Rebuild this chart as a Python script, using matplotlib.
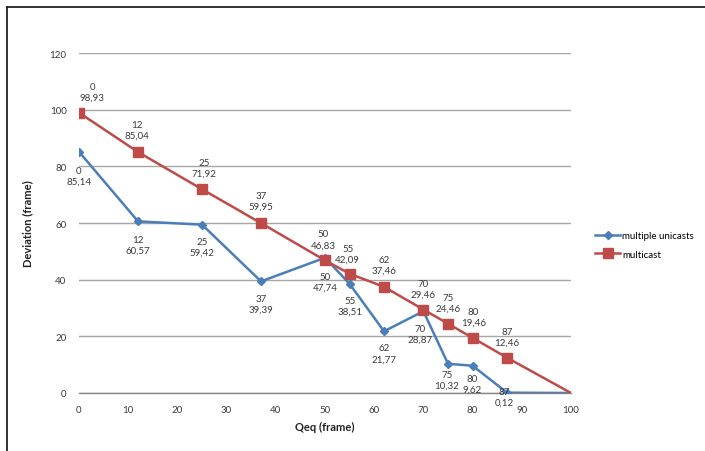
import matplotlib
matplotlib.use("Agg")
import matplotlib.pyplot as plt
from matplotlib.lines import Line2D

plt.rcParams['font.family'] = ['Lato', 'DejaVu Sans']

# data
qeq_unicast = [0, 12, 25, 37, 50, 55, 62, 70, 75, 80, 87, 100]
dev_unicast = [85.14, 60.57, 59.42, 39.39, 47.74, 38.51, 21.77, 28.87, 10.32, 9.62, 0.12, 0]

qeq_multicast = [0, 12, 25, 37, 50, 55, 62, 70, 75, 80, 87, 100]
dev_multicast = [98.93, 85.04, 71.92, 59.95, 46.83, 42.09, 37.46, 29.46, 24.46, 19.46, 12.46, 0]

x_ticks = list(range(0, 101, 10))
y_ticks = list(range(0, 121, 20))

BLUE = '#4A7EBB'
RED = '#BE4B48'
LABEL_COLOR = '#3a3a3a'

# label offsets in pixels (Excel placed them by hand-ish)
uni_offsets = [(0, -24), (0, -23), (0, -22), (0, -22), (0, -24), (0, -22),
               (0, -22), (-3, -23), (-1, -16), (0, -18), (-3, -4)]
multi_offsets = [(13, 21), (-1, 22), (2, 21), (0, 22), (-2, 21), (-2, 20),
                 (0, 22), (0, 21), (0, 21), (1, 21), (0, 21)]


def fmt(v):
    return f"{v:.2f}".replace('.', ',')


fig = plt.figure(figsize=(7.05, 4.52), dpi=100)
ax = fig.add_axes([79 / 705, 1 - 394 / 452, (571 - 79) / 705, (394 - 54) / 452])

n_marked = len(qeq_unicast) - 1
ax.plot(qeq_unicast, dev_unicast, color=BLUE, lw=1.8, marker='D', markersize=4.5,
        markevery=list(range(n_marked)), label='multiple unicasts', zorder=3)
ax.plot(qeq_multicast, dev_multicast, color=RED, lw=1.8, marker='s', markersize=7,
        markevery=list(range(len(qeq_multicast) - 1)), label='multicast', zorder=4)

for i in range(n_marked):
    ax.annotate(f"{qeq_unicast[i]}\n{fmt(dev_unicast[i])}", (qeq_unicast[i], dev_unicast[i]),
                xytext=uni_offsets[i], textcoords='offset pixels', ha='center', va='center',
                fontsize=7, color=LABEL_COLOR, linespacing=1.25, zorder=5)
for i in range(len(qeq_multicast) - 1):
    ax.annotate(f"{qeq_multicast[i]}\n{fmt(dev_multicast[i])}", (qeq_multicast[i], dev_multicast[i]),
                xytext=multi_offsets[i], textcoords='offset pixels', ha='center', va='center',
                fontsize=7, color=LABEL_COLOR, linespacing=1.25, zorder=5)

ax.set_xlim(0, 100)
ax.set_ylim(0, 120)
ax.set_xticks(x_ticks)
ax.set_yticks(y_ticks)
ax.tick_params(length=0, labelsize=7, colors='#3a3a3a')
ax.tick_params(axis='y', pad=9)
ax.tick_params(axis='x', pad=9)
ax.grid(axis='y', color='#a6a6a6', lw=1)
ax.set_axisbelow(True)
for s in ['top', 'right', 'left']:
    ax.spines[s].set_visible(False)
ax.spines['bottom'].set_color('#868686')
ax.spines['bottom'].set_linewidth(1)

ax.set_xlabel('Qeq (frame)', fontsize=8, fontweight='bold', color='#222222', labelpad=5)
ax.set_ylabel('Deviation (frame)', fontsize=8, fontweight='bold', color='#222222', labelpad=12)

ax.legend(loc='center left', bbox_to_anchor=(590 / 705, 1 - 246 / 452),
          bbox_transform=fig.transFigure, frameon=False, fontsize=7,
          handlelength=2.6, handletextpad=0.2, labelspacing=1.0, borderpad=0)

# outer chart frame (only top and left edges are inside the picture)
fig.add_artist(Line2D([7 / 705, 1.0], [1 - 8 / 452, 1 - 8 / 452], transform=fig.transFigure,
                      color='#222222', lw=1.3))
fig.add_artist(Line2D([7 / 705, 7 / 705], [0.0, 1 - 8 / 452], transform=fig.transFigure,
                      color='#222222', lw=1.3))

plt.savefig('out.png', dpi=100)
